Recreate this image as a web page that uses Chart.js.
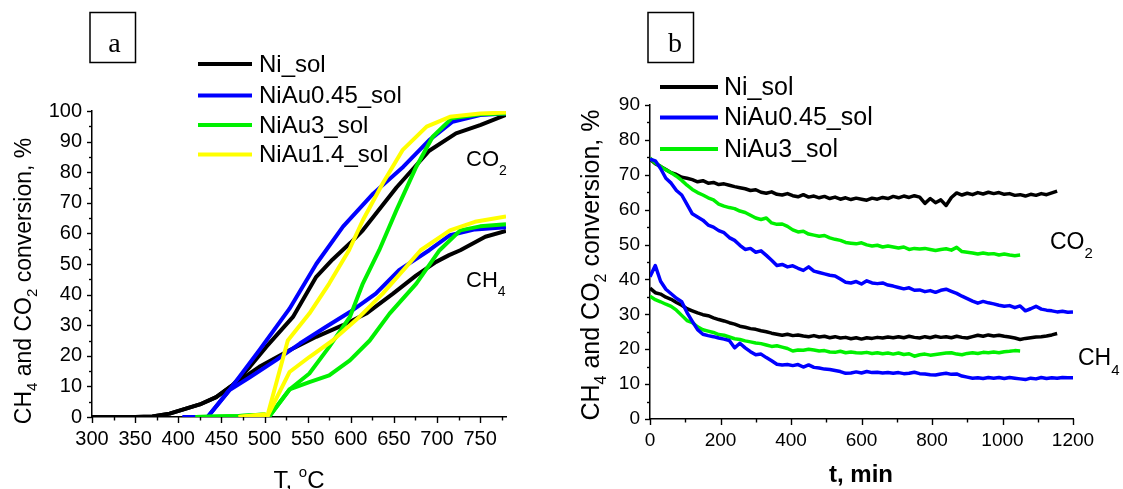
<!DOCTYPE html>
<html>
<head>
<meta charset="utf-8">
<script src="https://cdn.jsdelivr.net/npm/chart.js@4.4.1/dist/chart.umd.min.js"></script>
<style>
  html, body { margin: 0; padding: 0; background: #fff; overflow: hidden; }
  #wrap { position: relative; width: 1123px; height: 489px; background: #fff; }
  canvas { position: absolute; top: 0; }
  #chartA { left: 0; }
  #chartB { left: 560px; }
</style>
</head>
<body>
<div id="wrap">
  <canvas id="chartA" width="560" height="489"></canvas>
  <canvas id="chartB" width="563" height="489"></canvas>
</div>
<script>
// ---------- Panel a: conversion vs temperature ----------
const tempTicks = [300, 350, 400, 450, 500, 550, 600, 650, 700, 750];
const tempMinor = [325, 375, 425, 475, 525, 575, 625, 675, 725, 775];
const convTicksA = [0, 10, 20, 30, 40, 50, 60, 70, 80, 90, 100];
const convMinorA = [5, 15, 25, 35, 45, 55, 65, 75, 85, 95];

// Ni_sol
const niTempCO2 = [300, 325, 350, 370, 390, 425, 444, 463, 483, 502, 533, 560, 579, 600, 614, 653, 691, 722, 750, 780];
const niCO2T    = [0, 0, 0, 0.2, 1.1, 4.1, 6.5, 10.4, 16.4, 22.9, 32.7, 45.8, 51.5, 57, 61, 75, 87, 92.7, 95.4, 98.7];
const niTempCH4 = [300, 325, 350, 370, 390, 425, 444, 463, 494, 529, 560, 591, 618, 649, 676, 699, 714, 727, 756, 780];
const niCH4T    = [0, 0, 0, 0.2, 1.1, 4.1, 6.5, 10.4, 16.4, 21.8, 26.2, 30, 33.8, 40.3, 46.3, 50.7, 52.9, 54.5, 58.9, 60.8];

// NiAu0.45_sol
const au045TempCO2 = [405, 434, 459, 494, 529, 560, 591, 626, 661, 691, 718, 750, 780];
const au045CO2T    = [0, 0, 8.7, 21.8, 35.4, 50, 62.2, 73, 81.8, 90.5, 96.5, 98.7, 99.2];
const au045TempCH4 = [405, 434, 459, 483, 513, 541, 571, 599, 629, 656, 691, 715, 744, 780];
const au045CH4T    = [0, 0, 8.7, 13, 18.5, 24, 29.4, 34.3, 40.3, 48, 54.5, 59.4, 61.3, 62];

// NiAu3_sol
const au3TempCO2 = [420, 470, 500, 505, 529, 552, 575, 599, 614, 633, 653, 676, 695, 717, 750, 780];
const au3CO2T    = [0, 0.3, 0.8, 0, 9, 14.2, 22.9, 32.7, 43.6, 54.5, 67.6, 81.8, 91.6, 97.6, 98.9, 99.2];
const au3TempCH4 = [420, 470, 500, 505, 529, 552, 575, 599, 622, 645, 676, 703, 727, 750, 780];
const au3CH4T    = [0, 0.3, 0.8, 0, 9, 11.4, 13.6, 18.5, 25, 33.8, 43.6, 54.5, 61, 62.3, 63];

// NiAu1.4_sol
const au14TempCO2 = [470, 500, 503, 527, 552, 575, 598, 614, 637, 660, 688, 715, 750, 780];
const au14CO2T    = [0, 0.8, 0, 25, 33.8, 43.6, 54.5, 64.3, 76.3, 87.2, 94.9, 98.1, 99.2, 99.5];
const au14TempCH4 = [470, 500, 503, 529, 552, 579, 610, 637, 664, 681, 715, 744, 780];
const au14CH4T    = [0, 0.8, 0, 14.7, 19.6, 25, 32.7, 40.3, 49, 54.5, 61, 63.8, 65.5];

// ---------- Panel b: conversion vs time on stream ----------
const timeTicks = [0, 200, 400, 600, 800, 1000, 1200];
const timeMinor = [100, 300, 500, 700, 900, 1100];
const convTicksB = [0, 10, 20, 30, 40, 50, 60, 70, 80, 90];
const convMinorB = [5, 15, 25, 35, 45, 55, 65, 75, 85];

const minutes = [
  0, 15, 30, 45, 60, 75, 90, 105, 120, 135,
  150, 165, 180, 195, 210, 225, 240, 255, 270, 285,
  300, 315, 330, 345, 360, 375, 390, 405, 420, 435,
  450, 465, 480, 495, 510, 525, 540, 555, 570, 585,
  600, 615, 630, 645, 660, 675, 690, 705, 720, 735,
  750, 765, 780, 795, 810, 825, 840, 855, 870, 885,
  900, 915, 930, 945, 960, 975, 990, 1005, 1020, 1035,
  1050, 1065, 1080, 1095, 1110, 1125, 1140, 1155, 1170, 1185,
  1200
];

const niCO2t = [
  74.5, 73.2, 72.4, 71.5, 70.6, 70.1, 69.3, 69.0, 68.6, 68.0,
  68.3, 67.6, 67.8, 67.2, 67.4, 67.0, 66.6, 66.3, 66.0, 65.5,
  65.7, 65.0, 64.7, 65.1, 64.4, 64.2, 64.6, 64.0, 63.7, 64.3,
  63.6, 63.9, 63.4, 63.8, 63.2, 63.6, 63.0, 63.4, 62.9, 63.3,
  63.0, 62.7, 63.3, 63.0, 63.5, 63.2, 63.8, 63.4, 63.9, 63.5,
  64.0, 63.6, 61.8, 63.2, 62.0, 62.8, 61.2, 63.5, 64.8, 64.2,
  64.7, 64.3, 64.9, 64.5, 65.0, 64.6, 64.9, 64.4, 64.6, 64.1,
  64.3, 63.9, 64.4, 64.1, 64.6, 64.3, 64.8, 65.3
];
const niCH4t = [
  37.5, 36.2, 35.8, 34.9, 34.3, 33.4, 32.6, 31.6, 31.0, 30.4,
  29.9, 29.6, 29.0, 28.5, 28.1, 27.6, 27.2, 26.6, 26.3, 25.9,
  25.7, 25.3, 25.0, 24.6, 24.3, 24.0, 24.3, 23.9, 24.1, 23.8,
  23.6, 23.9, 23.5, 23.7, 23.3, 23.6, 23.2, 23.4, 23.0, 23.3,
  22.9, 23.3, 23.1, 23.4, 23.2, 23.5, 23.3, 23.6, 23.3, 23.7,
  23.4, 23.2, 23.6, 23.3, 23.7, 23.4, 23.6, 23.3, 23.7, 23.4,
  23.2, 23.6, 24.0, 23.7, 24.1, 23.8, 24.0, 23.7, 23.5, 23.2,
  22.8, 23.1, 23.3, 23.5, 23.6, 23.8, 24.1, 24.5
];
const au045CO2t = [
  74.5, 74.0, 71.8, 69.0, 67.6, 65.5, 64.2, 61.5, 58.8, 57.9,
  57.0, 55.6, 55.0, 54.0, 53.4, 52.0, 51.2, 49.8, 48.6, 48.9,
  47.8, 48.2, 46.9, 45.5, 44.0, 44.3, 43.6, 43.9, 43.2, 42.6,
  43.6, 42.4, 42.0, 41.6, 41.2, 41.0, 40.1, 39.2, 39.0, 39.4,
  38.7, 39.6, 39.0, 38.8, 39.0, 38.4, 38.1, 37.7, 37.3, 37.6,
  36.9, 37.0, 36.5, 36.8, 36.3, 36.9, 37.2, 36.6, 36.0, 35.2,
  34.5, 33.8, 33.2, 33.7, 33.3, 33.0, 32.6, 32.3, 32.5, 31.9,
  32.4, 31.0, 31.6, 32.3, 31.5, 31.2, 31.0, 30.7, 30.9, 30.6,
  30.7
];
const au045CH4t = [
  40.8, 44.0, 39.5, 37.2, 35.9, 34.6, 33.6, 30.5, 28.0, 25.6,
  24.3, 23.9, 23.6, 23.2, 22.9, 22.5, 20.4, 21.7, 20.4, 19.3,
  18.4, 18.6, 17.6, 16.7, 15.7, 15.5, 15.6, 15.3, 15.6, 14.9,
  15.5, 14.8, 14.6, 14.3, 14.2, 13.9, 13.6, 13.1, 13.2, 13.5,
  13.2, 13.6, 13.3, 13.4, 13.2, 13.3, 13.1, 13.3, 13.0, 13.1,
  13.4, 13.0, 12.9, 12.7, 12.6, 12.9, 13.1, 12.8, 12.9, 12.3,
  12.0, 11.7, 11.8, 11.6, 11.9, 11.7, 11.9, 11.6, 11.9, 11.7,
  11.5, 11.3, 11.7, 11.5, 11.9, 11.6, 11.8, 11.7, 11.9, 11.8,
  11.8
];
const au3CO2t = [
  74.8, 73.4, 72.4, 71.4, 70.6, 69.6, 68.4, 67.0, 65.8, 64.9,
  64.2, 63.4, 62.8, 61.6, 61.0, 60.6, 60.3, 59.6, 59.2, 58.4,
  57.6, 57.2, 57.6, 56.2, 55.8, 55.9, 55.2, 54.2, 53.6, 53.8,
  53.0, 52.7, 52.4, 52.6, 51.9, 51.5, 51.2, 50.6, 50.4, 50.2,
  50.5, 49.9, 49.6, 49.8, 49.3, 49.6, 49.3, 49.0, 49.3, 48.6,
  48.9, 48.7, 48.9, 48.6, 48.3, 48.6, 48.8, 48.4, 49.2, 48.0,
  47.8, 47.6, 47.3, 47.6, 47.3, 47.4, 47.0, 47.3, 47.0, 46.8,
  47.0
];
const au3CH4t = [
  35.2, 34.2, 33.6, 32.9, 32.3, 31.2, 29.7, 28.2, 27.6, 26.4,
  25.6, 25.2, 24.8, 24.2, 24.0, 23.5, 23.0, 22.8, 22.4, 22.1,
  21.8, 21.6, 21.2, 20.8, 21.0, 20.6, 20.2, 19.5, 19.8, 19.7,
  20.0, 19.8, 19.5, 19.6, 19.2, 19.1, 19.4, 19.0, 19.2, 19.0,
  18.9, 19.1, 18.8, 19.0, 18.7, 18.9, 18.6, 18.9, 18.5, 18.7,
  18.0, 18.4, 18.6, 18.3, 18.5, 18.7, 18.9, 19.0, 18.6, 18.4,
  18.8, 19.0, 18.8, 19.1, 19.0, 19.2, 19.0, 19.3, 19.4, 19.6,
  19.5
];

// ---------- helpers ----------
const SANS = "'Liberation Sans', Arial, Helvetica, sans-serif";
const SERIF = "'Liberation Serif', 'Times New Roman', serif";
const BLACK = '#000000', BLUE = '#0000ff', GREEN = '#00f000', YELLOW = '#ffff00';

function pts(xs, ys) { return ys.map((y, i) => ({ x: xs[i], y: y })); }

function series(label, color, xs, ys, order, width, inLegend) {
  return {
    label: label, data: pts(xs, ys), borderColor: color, backgroundColor: color,
    borderWidth: width, pointRadius: 0, tension: 0, order: order,
    showInKey: inLegend, borderJoinStyle: 'round', borderCapStyle: 'butt'
  };
}

// text pieces with sub/superscripts
function measureParts(ctx, parts) {
  let w = 0;
  parts.forEach(p => { ctx.font = (p.bold ? 'bold ' : '') + p.size + 'px ' + SANS; w += ctx.measureText(p.t).width; });
  return w;
}
function drawParts(ctx, x, y, parts) {
  let cx = x;
  parts.forEach(p => {
    ctx.font = (p.bold ? 'bold ' : '') + p.size + 'px ' + SANS;
    ctx.fillText(p.t, cx, y + (p.dy || 0));
    cx += ctx.measureText(p.t).width;
  });
}

// axis tick marks, legend, labels and titles
const decor = {
  id: 'decor',
  afterDraw(chart, args, o) {
    const ctx = chart.ctx;
    const xs = chart.scales.x, ys = chart.scales.y;
    const area = chart.chartArea;
    ctx.save();
    ctx.strokeStyle = '#000';
    ctx.fillStyle = '#000';
    ctx.lineWidth = 1.4;
    // tick marks, pointing outward
    const tickX = (vals, len) => vals.forEach(v => {
      const px = Math.round(xs.getPixelForValue(v)) + 0.5;
      ctx.beginPath(); ctx.moveTo(px, area.bottom); ctx.lineTo(px, area.bottom + len); ctx.stroke();
    });
    const tickY = (vals, len) => vals.forEach(v => {
      const py = Math.round(ys.getPixelForValue(v)) + 0.5;
      ctx.beginPath(); ctx.moveTo(area.left, py); ctx.lineTo(area.left - len, py); ctx.stroke();
    });
    tickX(o.xMajor, 6); tickX(o.xMinor, 3.5);
    tickY(o.yMajor, 5); tickY(o.yMinor, 3);

    // legend
    const L = o.legend;
    ctx.textBaseline = 'middle';
    ctx.textAlign = 'left';
    ctx.font = L.size + 'px ' + SANS;
    const keyed = chart.data.datasets.filter(d => d.showInKey);
    keyed.forEach((d, i) => {
      const y = L.rows[i];
      ctx.strokeStyle = d.borderColor;
      ctx.lineWidth = 4;
      ctx.beginPath(); ctx.moveTo(L.x1, y); ctx.lineTo(L.x2, y); ctx.stroke();
      ctx.fillStyle = '#000';
      ctx.fillText(d.label, L.tx, y + 1);
    });

    // panel letter in a box
    ctx.textBaseline = 'alphabetic';
    ctx.strokeStyle = '#000';
    ctx.lineWidth = 1.5;
    const B = o.box;
    ctx.strokeRect(B.x, B.y, B.w, B.h);
    ctx.font = B.size + 'px ' + SERIF;
    ctx.textAlign = 'center';
    ctx.fillText(B.text, B.tx, B.ty);
    ctx.textAlign = 'left';

    // gas labels next to the curves
    o.gas.forEach(g => drawParts(ctx, g.x, g.y, g.parts));

    // x title
    const XT = o.xTitle;
    const xw = measureParts(ctx, XT.parts);
    drawParts(ctx, XT.cx - xw / 2, XT.y, XT.parts);

    // y title, rotated
    const YT = o.yTitle;
    ctx.save();
    ctx.translate(YT.x, YT.cy);
    ctx.rotate(-Math.PI / 2);
    const yw = measureParts(ctx, YT.parts);
    drawParts(ctx, -yw / 2, 0, YT.parts);
    ctx.restore();

    ctx.restore();
  }
};

function axisOptions(min, max, tickList, size, pad, fit) {
  return {
    type: 'linear', min: min, max: max,
    afterBuildTicks: s => { s.ticks = tickList.map(v => ({ value: v })); },
    afterFit: fit,
    grid: { display: false, drawOnChartArea: false, drawTicks: false },
    border: { display: true, color: '#000', width: 1.5 },
    ticks: {
      padding: pad, color: '#000', autoSkip: false, maxRotation: 0,
      font: { family: SANS, size: size },
      callback: v => String(v)
    }
  };
}

function yTitleParts(big, small, off) {
  return [
    { t: 'CH', size: big }, { t: '4', size: small, dy: off },
    { t: ' and CO', size: big }, { t: '2', size: small, dy: off },
    { t: ' conversion, %', size: big }
  ];
}

Chart.defaults.font.family = SANS;

new Chart(document.getElementById('chartA'), {
  type: 'line',
  data: {
    datasets: [
      series('Ni_sol', BLACK, niTempCO2, niCO2T, 3, 4, true),
      series('NiAu0.45_sol', BLUE, au045TempCO2, au045CO2T, 2, 4, true),
      series('NiAu3_sol', GREEN, au3TempCO2, au3CO2T, 1, 4, true),
      series('NiAu1.4_sol', YELLOW, au14TempCO2, au14CO2T, 0, 4, true),
      series('Ni_sol CH4', BLACK, niTempCH4, niCH4T, 3, 4, false),
      series('NiAu0.45_sol CH4', BLUE, au045TempCH4, au045CH4T, 2, 4, false),
      series('NiAu3_sol CH4', GREEN, au3TempCH4, au3CH4T, 1, 4, false),
      series('NiAu1.4_sol CH4', YELLOW, au14TempCH4, au14CH4T, 0, 4, false)
    ]
  },
  options: {
    responsive: false, animation: false, devicePixelRatio: 1,
    layout: { padding: { top: 111, right: 54, left: 0, bottom: 0 } },
    scales: {
      x: axisOptions(300, 780, tempTicks, 20, 10, s => { s.height = 72; }),
      y: axisOptions(0, 100, convTicksA, 20, 10, s => { s.width = 92; })
    },
    plugins: {
      legend: { display: false },
      tooltip: { enabled: false },
      decor: {
        xMajor: tempTicks, xMinor: tempMinor, yMajor: convTicksA, yMinor: convMinorA,
        legend: { x1: 198, x2: 252, tx: 259, rows: [64, 95.5, 125, 154.5], size: 24 },
        box: { x: 90, y: 12.5, w: 45.5, h: 50, text: 'a', size: 28, tx: 114.5, ty: 52 },
        gas: [
          { x: 466, y: 166, parts: [{ t: 'CO', size: 22 }, { t: '2', size: 14, dy: 9 }] },
          { x: 466, y: 287, parts: [{ t: 'CH', size: 22 }, { t: '4', size: 14, dy: 9 }] }
        ],
        xTitle: { cx: 299, y: 488, parts: [{ t: 'T, ', size: 24 }, { t: 'o', size: 15, dy: -11 }, { t: 'C', size: 24 }] },
        yTitle: { x: 31, cy: 281, parts: yTitleParts(23, 15, 6) }
      }
    }
  },
  plugins: [decor]
});

new Chart(document.getElementById('chartB'), {
  type: 'line',
  data: {
    datasets: [
      series('Ni_sol', BLACK, minutes, niCO2t, 2, 3.5, true),
      series('NiAu0.45_sol', BLUE, minutes, au045CO2t, 0, 3.5, true),
      series('NiAu3_sol', GREEN, minutes, au3CO2t, 1, 3.5, true),
      series('Ni_sol CH4', BLACK, minutes, niCH4t, 2, 3.5, false),
      series('NiAu0.45_sol CH4', BLUE, minutes, au045CH4t, 0, 3.5, false),
      series('NiAu3_sol CH4', GREEN, minutes, au3CH4t, 1, 3.5, false)
    ]
  },
  options: {
    responsive: false, animation: false, devicePixelRatio: 1,
    layout: { padding: { top: 105, right: 50, left: 0, bottom: 0 } },
    scales: {
      x: axisOptions(0, 1200, timeTicks, 19, 10, s => { s.height = 70; }),
      y: axisOptions(0, 90, convTicksB, 19, 10, s => { s.width = 90; })
    },
    plugins: {
      legend: { display: false },
      tooltip: { enabled: false },
      decor: {
        xMajor: timeTicks, xMinor: timeMinor, yMajor: convTicksB, yMinor: convMinorB,
        legend: { x1: 100, x2: 158, tx: 164, rows: [87, 117.5, 149], size: 25 },
        box: { x: 88, y: 12.5, w: 45.5, h: 50, text: 'b', size: 28, tx: 115, ty: 52 },
        gas: [
          { x: 490, y: 249, parts: [{ t: 'CO', size: 23 }, { t: '2', size: 15, dy: 9 }] },
          { x: 518, y: 365, parts: [{ t: 'CH', size: 23 }, { t: '4', size: 15, dy: 10 }] }
        ],
        xTitle: { cx: 301, y: 482, parts: [{ t: 't, min', size: 24, bold: true }] },
        yTitle: { x: 39, cy: 265, parts: yTitleParts(25, 16, 7) }
      }
    }
  },
  plugins: [decor]
});
</script>
</body>
</html>
